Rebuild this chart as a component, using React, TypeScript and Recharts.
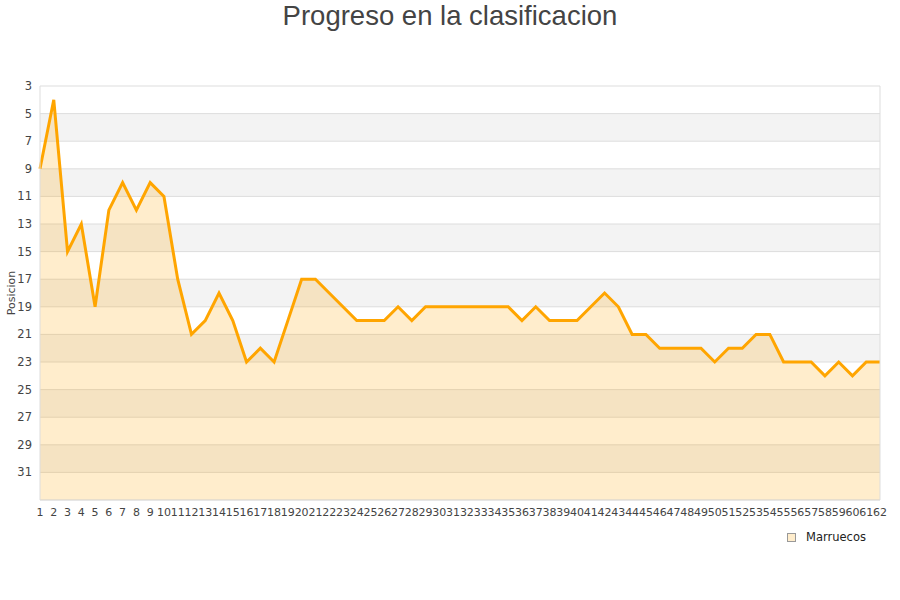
import { AreaChart, Area, XAxis, YAxis, CartesianGrid, ReferenceLine } from "recharts";

const JORNADAS = [
  1, 2, 3, 4, 5, 6, 7, 8, 9, 10, 11, 12, 13, 14, 15, 16, 17, 18, 19, 20, 21,
  22, 23, 24, 25, 26, 27, 28, 29, 30, 31, 32, 33, 34, 35, 36, 37, 38, 39, 40,
  41, 42, 43, 44, 45, 46, 47, 48, 49, 50, 51, 52, 53, 54, 55, 56, 57, 58, 59,
  60, 61, 62,
];

const POSICIONES = [
  9, 4, 15, 13, 19, 12, 10, 12, 10, 11,
  17, 21, 20, 18, 20, 23, 22, 23, 20, 17,
  17, 18, 19, 20, 20, 20, 19, 20, 19, 19,
  19, 19, 19, 19, 19, 20, 19, 20, 20, 20,
  19, 18, 19, 21, 21, 22, 22, 22, 22, 23,
  22, 22, 21, 21, 23, 23, 23, 24, 23, 24,
  23, 23,
];

const Y_TICKS = [3, 5, 7, 9, 11, 13, 15, 17, 19, 21, 23, 25, 27, 29, 31];

const TITLE = "Progreso en la clasificacion";
const SERIES_NAME = "Marruecos";

const data = JORNADAS.map((j, i) => ({ jornada: j, posicion: POSICIONES[i] }));

const FONT = "'DejaVu Sans', sans-serif";

export default function App() {
  return (
    <div style={{ position: "absolute", left: 0, top: 0, width: 900, height: 600, fontFamily: FONT, background: "#fff" }}>
      <div
        style={{
          position: "absolute",
          top: 0,
          left: 0,
          width: 900,
          textAlign: "center",
          fontFamily: "'Liberation Sans', Arial, sans-serif",
          fontSize: 27.5,
          color: "#444",
        }}
      >
        {TITLE}
      </div>
      <AreaChart width={900} height={600} data={data} margin={{ top: 86, right: 20, bottom: 70, left: 10 }}>
        <CartesianGrid
          vertical={false}
          stroke="#dddddd"
          horizontalFill={["#ffffff", "#f3f3f3"]}
        />
        <XAxis
          dataKey="jornada"
          interval={0}
          height={30}
          tickLine={false}
          axisLine={{ stroke: "#dddddd" }}
          tick={{ fill: "#444", fontSize: 11, fontFamily: FONT }}
        />
        <YAxis
          reversed
          width={30}
          domain={[3, 33]}
          ticks={Y_TICKS}
          interval={0}
          tickLine={false}
          axisLine={{ stroke: "#dddddd" }}
          tick={{ fill: "#444", fontSize: 11.5, fontFamily: FONT }}
          label={{
            content: (props: any) => {
              const vb = props.viewBox || { x: 10, y: 86, width: 30, height: 414 };
              const cx = vb.x + 1;
              const cy = vb.y + vb.height / 2;
              return (
                <text
                  x={cx}
                  y={cy}
                  transform={`rotate(-90 ${cx} ${cy})`}
                  textAnchor="middle"
                  dominantBaseline="central"
                  fontSize={11}
                  fontFamily={FONT}
                  fill="#444"
                >
                  Posicion
                </text>
              );
            },
          }}
        />
        <ReferenceLine x={62} stroke="#dddddd" />
        <Area
          type="linear"
          dataKey="posicion"
          name={SERIES_NAME}
          baseValue="dataMax"
          stroke="#ffa500"
          strokeWidth={3}
          fill="#ffa500"
          fillOpacity={0.2}
          dot={false}
          activeDot={false}
          isAnimationActive={false}
        />
      </AreaChart>
      <div
        style={{
          position: "absolute",
          left: 787,
          top: 530,
          display: "flex",
          alignItems: "center",
          fontSize: 11.5,
          color: "#222",
        }}
      >
        <span
          style={{
            display: "inline-block",
            width: 7,
            height: 7,
            background: "#ffedcc",
            border: "1px solid #999",
            marginRight: 10,
          }}
        />
        {SERIES_NAME}
      </div>
    </div>
  );
}
